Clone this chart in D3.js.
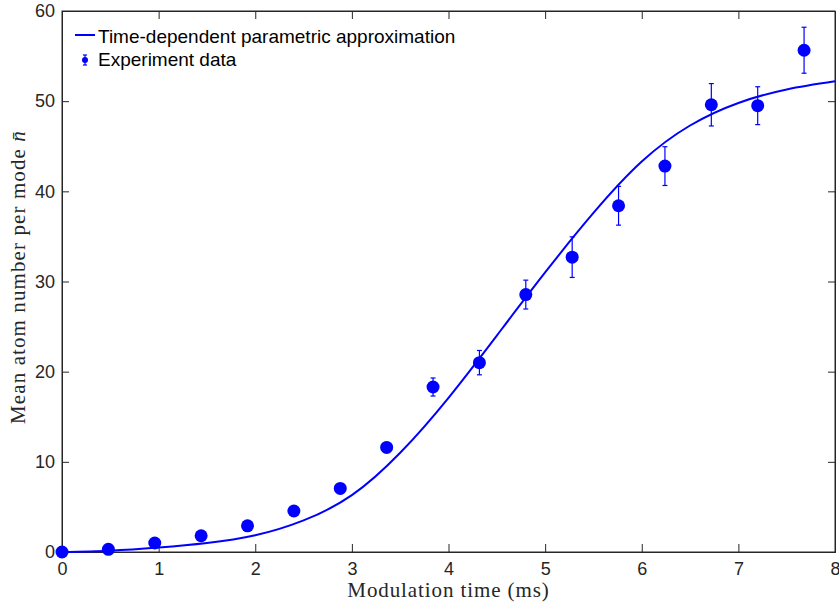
<!DOCTYPE html>
<html>
<head>
<meta charset="utf-8">
<script src="https://cdn.jsdelivr.net/npm/d3@7"></script>
<style>
  html, body { margin: 0; padding: 0; background: #ffffff; }
  svg { display: block; }
  .tick text { font-family: "Liberation Sans", Arial, Helvetica, sans-serif; }
</style>
</head>
<body>
<svg id="chart" width="839" height="609"></svg>
<script>
// Measured mean occupation per mode
const timeMs = [0, 0.48, 0.96, 1.44, 1.92, 2.40, 2.88, 3.36, 3.84, 4.32, 4.80, 5.28, 5.76, 6.24, 6.72, 7.20, 7.68];
const meanN  = [0, 0.3, 1.0, 1.8, 2.9, 4.55, 7.05, 11.6, 18.3, 21.0, 28.55, 32.7, 38.4, 42.8, 49.6, 49.5, 55.65];
const errN   = [0.1, 0.1, 0.15, 0.2, 0.25, 0.3, 0.35, 0.55, 1.0, 1.35, 1.6, 2.25, 2.15, 2.15, 2.35, 2.1, 2.55];

// Time-dependent parametric approximation, sampled
const fitTime  = [0, 0.5, 1.0, 1.5, 2.0, 2.5, 3.0, 3.5, 4.0, 4.5, 5.0, 5.5, 6.0, 6.5, 7.0, 7.5, 8.0];
const fitValue = [0, 0.15, 0.5, 1.0, 1.85, 3.5, 6.3, 11.0, 17.1, 24.0, 31.0, 37.6, 43.3, 47.3, 49.8, 51.3, 52.2];

const xTicks = [0, 1, 2, 3, 4, 5, 6, 7, 8];
const yTicks = [0, 10, 20, 30, 40, 50, 60];

const blue = "#0000ff";
const axisColor = "#262626";

const svg = d3.select("#chart");
const plotLeft = 62, plotRight = 835, plotTop = 11, plotBottom = 552;

const x = d3.scaleLinear().domain([0, 8]).range([plotLeft, plotRight]);
const y = d3.scaleLinear().domain([0, 60]).range([plotBottom, plotTop]);

// Frame (box on)
svg.append("rect")
  .attr("x", plotLeft).attr("y", plotTop)
  .attr("width", plotRight - plotLeft).attr("height", plotBottom - plotTop)
  .attr("fill", "none").attr("stroke", axisColor).attr("stroke-width", 1);

// Bottom axis, ticks pointing inward
svg.append("g")
  .attr("transform", `translate(0,${plotBottom})`)
  .call(d3.axisBottom(x).tickValues(xTicks).tickFormat(d3.format("d")).tickSize(-8).tickPadding(10));
// Left axis, ticks pointing inward
svg.append("g")
  .attr("transform", `translate(${plotLeft},0)`)
  .call(d3.axisLeft(y).tickValues(yTicks).tickFormat(d3.format("d")).tickSize(-7).tickPadding(7));
// Mirror ticks on top and right
svg.append("g")
  .attr("transform", `translate(0,${plotTop})`)
  .call(d3.axisTop(x).tickValues(xTicks).tickFormat("").tickSize(-8));
svg.append("g")
  .attr("transform", `translate(${plotRight},0)`)
  .call(d3.axisRight(y).tickValues(yTicks).tickFormat("").tickSize(-7));

svg.selectAll(".domain").attr("stroke", axisColor);
svg.selectAll(".tick line").attr("stroke", axisColor);
svg.selectAll(".tick text").attr("fill", axisColor).attr("font-size", 18);

// Axis titles
svg.append("text")
  .attr("x", (plotLeft + plotRight) / 2).attr("y", 597)
  .attr("text-anchor", "middle")
  .attr("font-family", "'Liberation Serif', 'Times New Roman', serif")
  .attr("font-size", 21)
  .attr("letter-spacing", 0.9)
  .attr("fill", axisColor)
  .text("Modulation time (ms)");

const yl = svg.append("text")
  .attr("transform", `translate(25,277) rotate(-90)`)
  .attr("text-anchor", "middle")
  .attr("font-family", "'Liberation Serif', 'Times New Roman', serif")
  .attr("font-size", 21)
  .attr("letter-spacing", 1.1)
  .attr("fill", axisColor);
yl.append("tspan").text("Mean atom number per mode ");
yl.append("tspan").attr("font-style", "italic").text("n\u0304");

// Fitted curve
const line = d3.line()
  .x((d, i) => x(fitTime[i]))
  .y(d => y(d))
  .curve(d3.curveNatural);
svg.append("path")
  .datum(fitValue)
  .attr("d", line)
  .attr("fill", "none")
  .attr("stroke", blue)
  .attr("stroke-width", 2);

// Error bars
const eb = svg.append("g").attr("stroke", blue).attr("stroke-width", 1.2);
timeMs.forEach((t, i) => {
  const cx = x(t), y0 = y(meanN[i] - errN[i]), y1 = y(meanN[i] + errN[i]);
  eb.append("line").attr("x1", cx).attr("x2", cx).attr("y1", y0).attr("y2", y1);
  eb.append("line").attr("x1", cx - 2.5).attr("x2", cx + 2.5).attr("y1", y0).attr("y2", y0);
  eb.append("line").attr("x1", cx - 2.5).attr("x2", cx + 2.5).attr("y1", y1).attr("y2", y1);
});

// Data markers
svg.append("g").selectAll("circle")
  .data(meanN)
  .join("circle")
  .attr("cx", (d, i) => x(timeMs[i]))
  .attr("cy", d => y(d))
  .attr("r", 6.5)
  .attr("fill", blue);

// Legend
const lg = svg.append("g")
  .attr("font-family", "'Liberation Sans', Arial, Helvetica, sans-serif")
  .attr("font-size", 19)
  .attr("fill", "#000");
lg.append("line")
  .attr("x1", 75).attr("x2", 95).attr("y1", 35).attr("y2", 35)
  .attr("stroke", blue).attr("stroke-width", 2);
lg.append("text").attr("x", 98).attr("y", 43).text("Time-dependent parametric approximation");
lg.append("line").attr("x1", 85).attr("x2", 85).attr("y1", 55).attr("y2", 65)
  .attr("stroke", blue).attr("stroke-width", 1.2);
lg.append("line").attr("x1", 83).attr("x2", 87).attr("y1", 55).attr("y2", 55)
  .attr("stroke", blue).attr("stroke-width", 1.2);
lg.append("line").attr("x1", 83).attr("x2", 87).attr("y1", 65).attr("y2", 65)
  .attr("stroke", blue).attr("stroke-width", 1.2);
lg.append("circle").attr("cx", 85).attr("cy", 60).attr("r", 3).attr("fill", blue);
lg.append("text").attr("x", 98).attr("y", 66).text("Experiment data");
</script>
</body>
</html>
